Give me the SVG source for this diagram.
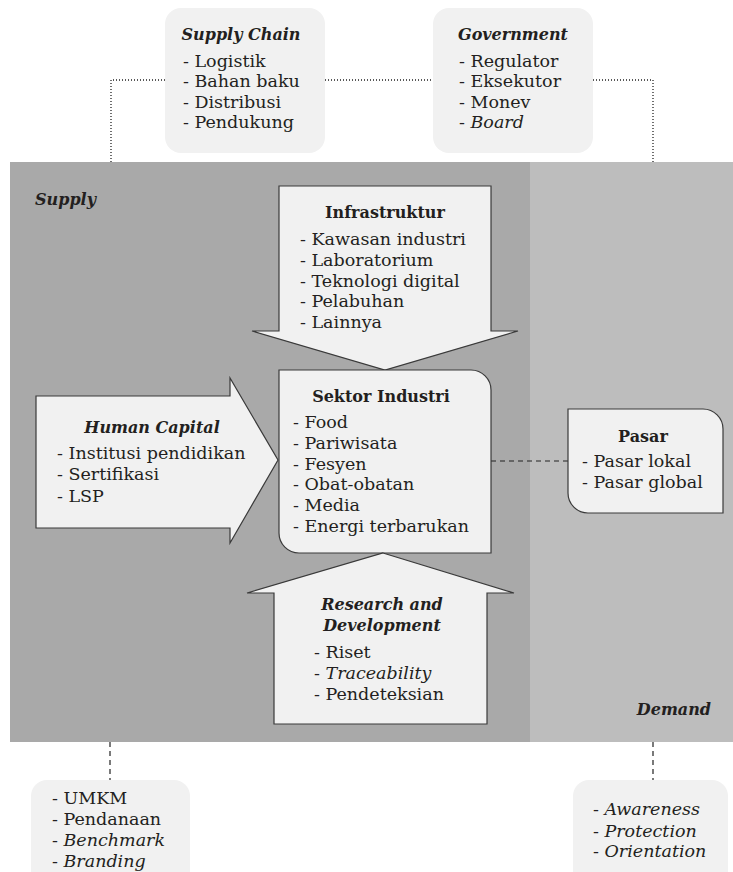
<svg xmlns="http://www.w3.org/2000/svg" width="733" height="872" viewBox="0 0 733 872">
<style>
text{font-family:"DejaVu Serif","Liberation Serif",serif;fill:#231f20;font-size:17.5px}
.t{font-weight:bold;font-style:italic;font-size:16px}
.b{font-weight:bold;font-size:16px}
.i{font-style:italic}
.shape{fill:#f1f1f1;stroke:#3a3a3a;stroke-width:1.2}
.soft{fill:#f1f1f1}
.dot{fill:none;stroke:#222;stroke-width:1.3;stroke-dasharray:1 2}
.dash{fill:none;stroke:#222;stroke-width:1.2;stroke-dasharray:5 4}
</style>
<rect width="733" height="872" fill="#fff"/>
<g id="regions">
<rect x="10" y="162" width="520" height="580" fill="#a9a9a9"/>
<rect x="530" y="162" width="203" height="580" fill="#bdbdbd"/>
<text class="t" x="35" y="205">Supply</text>
<text class="t" x="711" y="715" text-anchor="end">Demand</text>
</g>
<g id="connectors">
<path class="dot" d="M111,162 V80 H165"/>
<path class="dot" d="M325,80 H433"/>
<path class="dot" d="M593,80 H653 V162"/>
<path class="dash" d="M491,461 H568"/>
<path class="dash" d="M110,742 V780"/>
<path class="dash" d="M653,742 V780"/>
</g>
<g id="supply-chain">
<rect class="soft" x="165" y="8" width="160" height="145" rx="16"/>
<text class="t" x="241" y="40" text-anchor="middle">Supply Chain</text>
<text x="183" y="67">- Logistik</text>
<text x="183" y="87">- Bahan baku</text>
<text x="183" y="108">- Distribusi</text>
<text x="183" y="128">- Pendukung</text>
</g>
<g id="government">
<rect class="soft" x="433" y="8" width="160" height="145" rx="16"/>
<text class="t" x="513" y="40" text-anchor="middle">Government</text>
<text x="459" y="67">- Regulator</text>
<text x="459" y="87">- Eksekutor</text>
<text x="459" y="108">- Monev</text>
<text x="459" y="128">- <tspan class="i">Board</tspan></text>
</g>
<g id="infrastruktur">
<polygon class="shape" points="279,186 491,186 491,331 518,331 385,370 252,331 279,331"/>
<text class="b" x="385" y="218" text-anchor="middle">Infrastruktur</text>
<text x="300" y="245">- Kawasan industri</text>
<text x="300" y="266">- Laboratorium</text>
<text x="300" y="287">- Teknologi digital</text>
<text x="300" y="307">- Pelabuhan</text>
<text x="300" y="328">- Lainnya</text>
</g>
<g id="human-capital">
<polygon class="shape" points="36,396 230,396 230,378 278,460 230,543 230,528 36,528"/>
<text class="t" x="152" y="433" text-anchor="middle">Human Capital</text>
<text x="57" y="459">- Institusi pendidikan</text>
<text x="57" y="480">- Sertifikasi</text>
<text x="57" y="502">- LSP</text>
</g>
<g id="sektor-industri">
<path class="shape" d="M279,370 H471 A20,20 0 0 1 491,390 V553 H299 A20,20 0 0 1 279,533 Z"/>
<text class="b" x="381" y="402" text-anchor="middle">Sektor Industri</text>
<text x="293" y="428">- Food</text>
<text x="293" y="449">- Pariwisata</text>
<text x="293" y="470">- Fesyen</text>
<text x="293" y="490">- Obat-obatan</text>
<text x="293" y="511">- Media</text>
<text x="293" y="532">- Energi terbarukan</text>
</g>
<g id="pasar">
<path class="shape" d="M568,409 H703 A20,20 0 0 1 723,429 V513 H588 A20,20 0 0 1 568,493 Z"/>
<text class="b" x="643" y="442" text-anchor="middle">Pasar</text>
<text x="582" y="467">- Pasar lokal</text>
<text x="582" y="488">- Pasar global</text>
</g>
<g id="research-development">
<polygon class="shape" points="383,553 514,593 487,593 487,724 274,724 274,593 247,593"/>
<text class="t" x="382" y="610" text-anchor="middle">Research and</text>
<text class="t" x="382" y="631" text-anchor="middle">Development</text>
<text x="314" y="658">- Riset</text>
<text x="314" y="679">- <tspan class="i">Traceability</tspan></text>
<text x="314" y="700">- Pendeteksian</text>
</g>
<g id="umkm">
<rect class="soft" x="31" y="780" width="159" height="110" rx="16"/>
<text x="52" y="804">- UMKM</text>
<text x="52" y="825">- Pendanaan</text>
<text x="52" y="846">- <tspan class="i">Benchmark</tspan></text>
<text x="52" y="867">- <tspan class="i">Branding</tspan></text>
</g>
<g id="awareness">
<rect class="soft" x="573" y="780" width="155" height="110" rx="16"/>
<text x="593" y="815">- <tspan class="i">Awareness</tspan></text>
<text x="593" y="837">- <tspan class="i">Protection</tspan></text>
<text x="593" y="857">- <tspan class="i">Orientation</tspan></text>
</g>
</svg>
